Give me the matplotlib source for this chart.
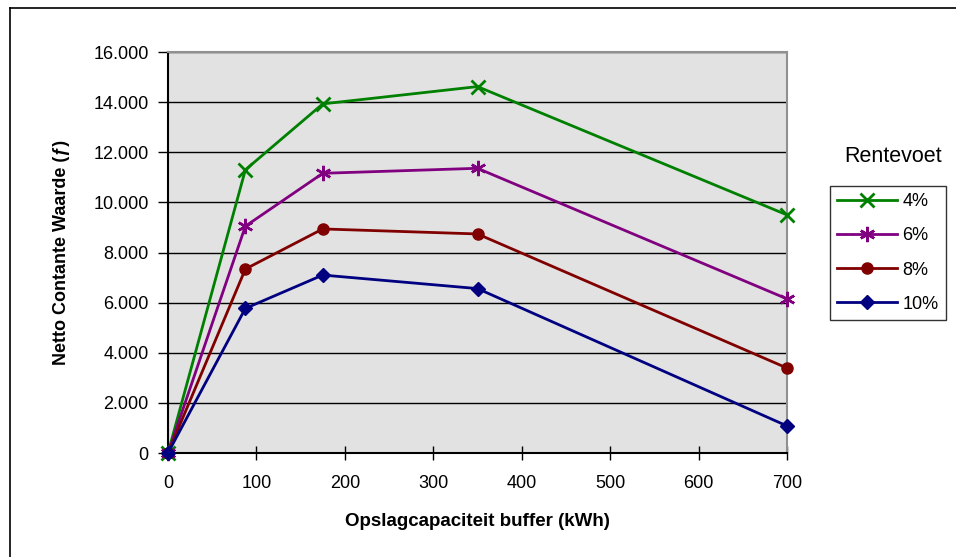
import matplotlib
matplotlib.use("Agg")
import matplotlib.pyplot as plt
from matplotlib.lines import Line2D
from matplotlib.ticker import FuncFormatter

plt.rcParams['font.family'] = ['Liberation Sans', 'DejaVu Sans']

capacity = [0, 87.5, 175, 350, 700]
series_labels = ["4%", "6%", "8%", "10%"]
npv_4 = [0, 11300, 13930, 14620, 9500]
npv_6 = [0, 9050, 11160, 11360, 6150]
npv_8 = [0, 7340, 8940, 8740, 3390]
npv_10 = [0, 5770, 7100, 6560, 1080]
x_ticks = [0, 100, 200, 300, 400, 500, 600, 700]
y_ticks = [0, 2000, 4000, 6000, 8000, 10000, 12000, 14000, 16000]

colors = ["#008000", "#800080", "#800000", "#000080"]
markers = ["x", (6, 2, 0), "o", "D"]
msizes = [10, 11, 8, 7]
mews = [2, 1.8, 1, 1]

fig = plt.figure(figsize=(9.56, 5.57), dpi=100)
W, H = 956, 557
ax = fig.add_axes([168 / W, (H - 453) / H, (787 - 168) / W, (453 - 52) / H])
ax.set_facecolor("#e2e2e2")

for vals, lab, c, m, ms, mew in zip([npv_4, npv_6, npv_8, npv_10], series_labels,
                                    colors, markers, msizes, mews):
    ax.plot(capacity, vals, color=c, lw=2, marker=m, ms=ms, mew=mew,
            mec=c, mfc=c, label=lab, clip_on=False, zorder=3)

ax.set_xlim(0, 700)
ax.set_ylim(0, 16000)
ax.set_xticks(x_ticks)
ax.set_yticks(y_ticks)
ax.yaxis.set_major_formatter(FuncFormatter(lambda v, p: f"{int(v):,}".replace(",", ".")))
ax.grid(axis="y", color="black", lw=1, zorder=1)
ax.set_axisbelow(True)
for s in ["top", "right"]:
    ax.spines[s].set_color("#909090")
    ax.spines[s].set_linewidth(1.5)
for s in ["left", "bottom"]:
    ax.spines[s].set_color("black")
    ax.spines[s].set_linewidth(1.5)
ax.tick_params(axis="y", direction="out", length=7, width=1, labelsize=13, pad=7)
ax.tick_params(axis="x", direction="inout", length=10, width=1, labelsize=13, pad=11)

ax.set_ylabel("Netto Contante Waarde (ƒ)", fontsize=13, fontweight="bold", labelpad=17)
ax.set_xlabel("Opslagcapaciteit buffer (kWh)", fontsize=13.5, fontweight="bold", labelpad=15)

handles = [Line2D([], [], color=c, lw=2, marker=m, ms=ms, mew=mew, mec=c, mfc=c)
           for c, m, ms, mew in zip(colors, markers, msizes, mews)]
leg = fig.legend(handles, series_labels, loc="upper left",
                 bbox_to_anchor=(830 / W, (H - 186) / H), fontsize=13,
                 frameon=True, fancybox=False, edgecolor="black",
                 handlelength=3.3, labelspacing=0.95, borderpad=0.4,
                 handletextpad=0.3, borderaxespad=0)
leg.get_frame().set_linewidth(1)
fig.text(893 / W, (H - 157) / H, "Rentevoet", fontsize=15.5, ha="center", va="center")

# outer chart border
fig.add_artist(Line2D([10 / W, 10 / W], [0, (H - 8) / H], color="black", lw=1.2))
fig.add_artist(Line2D([10 / W, 1], [(H - 8) / H, (H - 8) / H], color="black", lw=1.2))

fig.savefig("out.png", dpi=100)
